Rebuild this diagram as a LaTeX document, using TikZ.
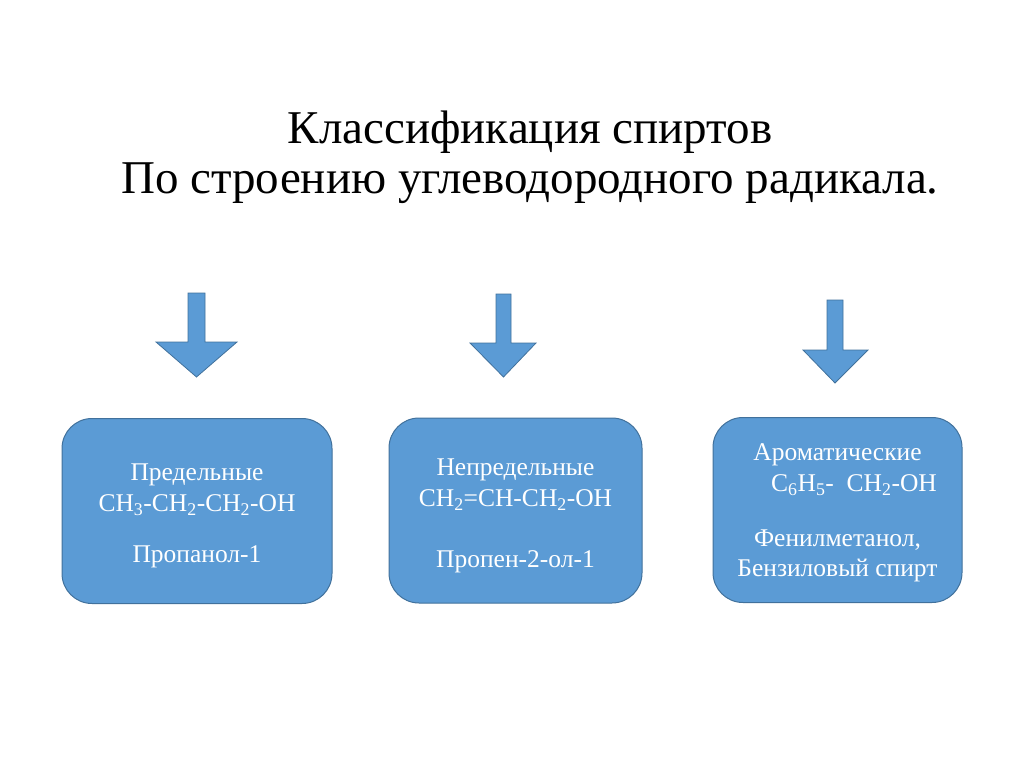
\documentclass[tikz,border=0pt]{standalone}
\usepackage{fontspec}
\setmainfont{Liberation Serif}
\usetikzlibrary{positioning}
\definecolor{boxblue}{HTML}{5B9BD5}
\definecolor{boxedge}{HTML}{41719C}
\tikzset{
  classbox/.style={
    rectangle, rounded corners=30pt, draw=boxedge, line width=1pt,
    fill=boxblue, text=white, align=center, inner sep=0pt,
    minimum height=185pt, font=\fontsize{25.5}{31.5}\selectfont
  },
  blockarrow/.style={fill=boxblue, draw=boxedge, line width=0.8pt},
  titletext/.style={align=center, font=\fontsize{47}{50}\selectfont}
}

\begin{document}
\begin{tikzpicture}[x=1pt, y=-1pt]
  \useasboundingbox (0,0) rectangle (1024,767);
  % Title
  \node[titletext] (title) at (530,157)
    {Классификация спиртов\\По строению углеводородного радикала.};
  % Arrows
  \draw[blockarrow] (188,293) -- (205,293) -- (205,342) -- (237,342)
    -- (196.5,377) -- (156,342) -- (188,342) -- cycle;
  \draw[blockarrow] (496,294) -- (511,294) -- (511,343) -- (536,343)
    -- (503.5,377) -- (470,343) -- (496,343) -- cycle;
  \draw[blockarrow] (827,300) -- (843,300) -- (843,350) -- (868,350)
    -- (835,383) -- (803,350) -- (827,350) -- cycle;
  % Boxes
  \node[classbox, minimum width=270pt] (sat) at (197,511)
    {\rule{0pt}{26pt}Предельные\\CH\textsubscript{3}-CH\textsubscript{2}-CH\textsubscript{2}-OH\\[19.5pt]Пропанол-1};
  \node[classbox, minimum width=253pt] (unsat) at (515.5,510.5)
    {\rule{0pt}{27.5pt}Непредельные\\CH\textsubscript{2}=CH-CH\textsubscript{2}-OH\\[29.5pt]Пропен-2-ол-1};
  \node[classbox, minimum width=249pt] (arom) at (837.5,510)
    {\rule{0pt}{22.5pt}Ароматические\\\hspace*{33pt}C\textsubscript{6}H\textsubscript{5}-\ \ CH\textsubscript{2}-OH\\[23.5pt]Фенилметанол,\\[-1.5pt]Бензиловый спирт};
\end{tikzpicture}
\end{document}
